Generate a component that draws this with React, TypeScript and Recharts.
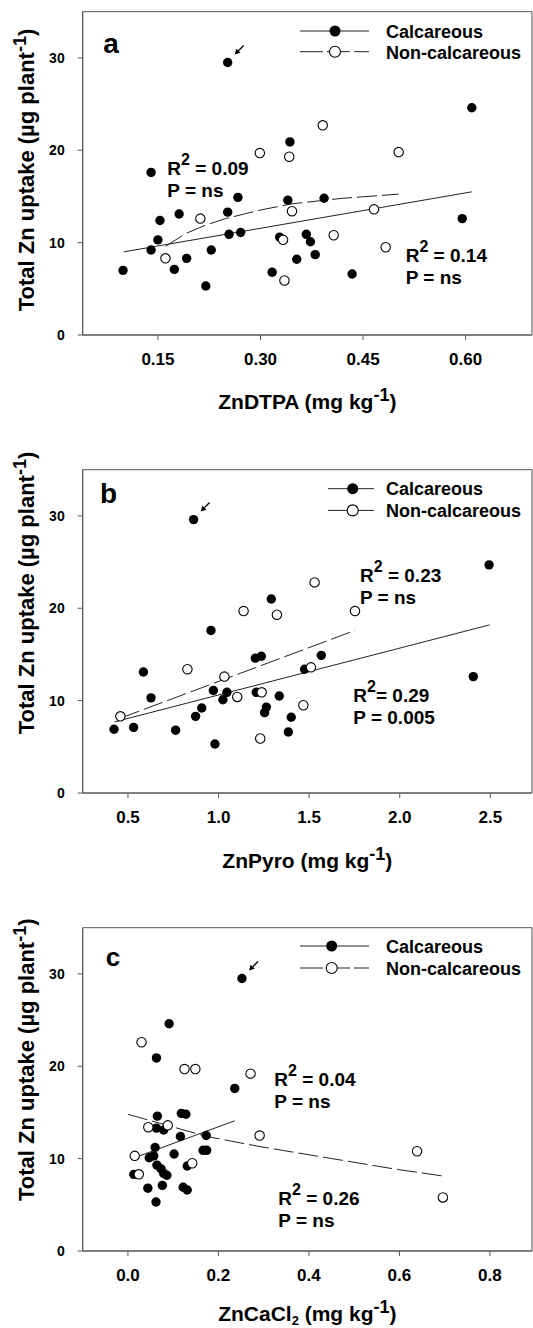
import React from 'react';
import { ScatterChart, Scatter, XAxis, YAxis, ReferenceArea, Label } from 'recharts';

const FONT = '"Liberation Sans", Arial, Helvetica, sans-serif';

type P = [number, number];

// ---------- Panel a : ZnDTPA ----------
const calcA: P[] = [
  [0.252, 29.5], [0.609, 24.6], [0.343, 20.9], [0.140, 17.6], [0.267, 14.9], [0.340, 14.6],
  [0.393, 14.8], [0.181, 13.1], [0.153, 12.4], [0.252, 13.3], [0.595, 12.6], [0.150, 10.3],
  [0.254, 10.9], [0.271, 11.1], [0.328, 10.6], [0.367, 10.9], [0.373, 10.1], [0.140, 9.2],
  [0.228, 9.2], [0.192, 8.3], [0.353, 8.2], [0.380, 8.7], [0.099, 7.0], [0.174, 7.1],
  [0.317, 6.8], [0.434, 6.6], [0.220, 5.3],
];
const nonA: P[] = [
  [0.391, 22.7], [0.299, 19.7], [0.342, 19.3], [0.502, 19.8], [0.212, 12.6], [0.346, 13.4],
  [0.466, 13.6], [0.333, 10.3], [0.407, 10.8], [0.483, 9.5], [0.161, 8.3], [0.335, 5.9],
];
const fitCalcA: P[] = [[0.10, 9.0], [0.609, 15.5]];
const fitNonA: P[] = [
  [0.161, 9.6], [0.191, 11.0], [0.220, 11.9], [0.249, 12.6], [0.298, 13.5],
  [0.346, 14.2], [0.420, 14.8], [0.502, 15.25],
];
const ticksA = [0.15, 0.30, 0.45, 0.60];

// ---------- Panel b : ZnPyro ----------
const calcB: P[] = [
  [0.862, 29.6], [2.493, 24.7], [1.291, 21.0], [0.958, 17.6], [1.203, 14.6], [1.236, 14.8],
  [1.567, 14.9], [0.585, 13.1], [1.475, 13.4], [2.406, 12.6], [0.627, 10.3], [0.971, 11.1],
  [1.046, 10.9], [1.024, 10.1], [1.208, 10.9], [1.335, 10.5], [0.907, 9.2], [1.264, 9.3],
  [1.254, 8.7], [0.873, 8.3], [1.401, 8.2], [0.423, 6.9], [0.531, 7.1], [0.763, 6.8],
  [1.385, 6.6], [0.980, 5.3],
];
const nonB: P[] = [
  [1.530, 22.8], [1.138, 19.7], [1.322, 19.3], [1.753, 19.7], [0.828, 13.4], [1.032, 12.6],
  [1.510, 13.6], [1.103, 10.4], [1.238, 10.9], [1.468, 9.5], [0.458, 8.3], [1.230, 5.9],
];
const fitCalcB: P[] = [[0.426, 7.7], [2.496, 18.2]];
const fitNonB: P[] = [[0.458, 8.1], [1.753, 17.6]];
const ticksB = [0.5, 1.0, 1.5, 2.0, 2.5];

// ---------- Panel c : ZnCaCl2 ----------
const calcC: P[] = [
  [0.252, 29.5], [0.091, 24.6], [0.063, 20.9], [0.236, 17.6], [0.065, 14.6], [0.118, 14.9],
  [0.128, 14.8], [0.063, 13.3], [0.079, 13.1], [0.116, 12.4], [0.173, 12.5], [0.060, 11.2],
  [0.166, 10.9], [0.174, 10.9], [0.102, 10.5], [0.047, 10.1], [0.057, 10.3], [0.064, 9.3],
  [0.131, 9.2], [0.073, 8.9], [0.079, 8.4], [0.086, 8.2], [0.013, 8.3], [0.044, 6.8],
  [0.076, 7.1], [0.122, 6.9], [0.131, 6.6], [0.062, 5.3],
];
const nonC: P[] = [
  [0.030, 22.6], [0.125, 19.7], [0.149, 19.7], [0.271, 19.2], [0.291, 12.5], [0.045, 13.4],
  [0.088, 13.6], [0.015, 10.3], [0.639, 10.8], [0.024, 8.3], [0.142, 9.5], [0.696, 5.8],
];
const fitCalcC: P[] = [[0.020, 10.2], [0.236, 14.1]];
const fitNonC: P[] = [
  [0.0, 14.8], [0.174, 12.4], [0.292, 11.3], [0.439, 10.1], [0.586, 8.9], [0.699, 8.1],
];
const ticksC = [0.0, 0.2, 0.4, 0.6, 0.8];

const yTicks = [0, 10, 20, 30];

const toXY = (arr: P[]) => arr.map(([x, y]) => ({ x, y }));
const maxPoint = (arr: P[]) => toXY([arr.reduce((m, p) => (p[1] > m[1] ? p : m), arr[0])]);

const AXIS = '#555';

const FilledDot = (props: any) => {
  const { cx, cy } = props;
  if (cx == null || cy == null) return <g />;
  return <circle cx={cx} cy={cy} r={4.7} fill="#000" />;
};
const OpenDot = (props: any) => {
  const { cx, cy } = props;
  if (cx == null || cy == null) return <g />;
  return <circle cx={cx} cy={cy} r={4.7} fill="#fff" stroke="#000" strokeWidth={1.1} />;
};
const NoDot = () => <g />;
const ArrowMark = (props: any) => {
  const { cx, cy } = props;
  if (cx == null || cy == null) return <g />;
  const tx = cx + 7, ty = cy - 8;
  const sx = cx + 16, sy = cy - 17;
  const bx = tx + 3.8, by = ty - 3.8;
  return (
    <g>
      <line x1={sx} y1={sy} x2={bx} y2={by} stroke="#000" strokeWidth={1.3} />
      <polygon points={`${tx},${ty} ${bx + 2},${by + 2} ${bx - 2},${by - 2}`} fill="#000" />
    </g>
  );
};

const tickX = { fill: '#000', fontSize: 17, fontWeight: 'bold', fontFamily: FONT } as any;
const tickY = { fill: '#000', fontSize: 14, fontWeight: 'bold', fontFamily: FONT } as any;

const W = 533;
const H = 420;

type PanelProps = {
  top: number;
  domain: [number, number];
  ticks: number[];
  digits: number;
  calc: P[];
  non: P[];
  fitCalc: P[];
  fitNon: P[];
  titleOffset: number;
  title: (x: number, y: number) => React.ReactNode;
  children?: React.ReactNode;
};

function Panel({ top, domain, ticks, digits, calc, non, fitCalc, fitNon, titleOffset, title, children }: PanelProps) {
  return (
    <div style={{ position: 'absolute', left: 0, top, width: W, height: H }}>
      <ScatterChart width={W} height={H} margin={{ top: 11.7, right: 1, left: 22.7, bottom: 5 }}>
        <XAxis
          type="number"
          dataKey="x"
          domain={domain}
          ticks={ticks}
          allowDataOverflow
          tickFormatter={(v: number) => v.toFixed(digits)}
          stroke={AXIS}
          tick={tickX}
          tickSize={5}
          tickMargin={13}
          height={80}
        >
          <Label
            content={(p: any) => {
              const vb = p.viewBox || {};
              return title(vb.x + vb.width / 2, vb.y + titleOffset);
            }}
          />
        </XAxis>
        <YAxis
          type="number"
          dataKey="y"
          domain={[0, 35]}
          ticks={yTicks}
          allowDataOverflow
          stroke={AXIS}
          tick={tickY}
          tickSize={5}
          tickMargin={13}
          width={60}
        />
        <ReferenceArea x1={domain[0]} x2={domain[1]} y1={0} y2={35} fill="none" stroke={AXIS} strokeWidth={1} ifOverflow="visible" />
        <Scatter data={toXY(fitCalc)} line={{ stroke: '#222', strokeWidth: 1 }} shape={NoDot} isAnimationActive={false} legendType="none" />
        <Scatter data={toXY(fitNon)} line={{ stroke: '#222', strokeWidth: 1, strokeDasharray: '20 5' }} shape={NoDot} isAnimationActive={false} legendType="none" />
        <Scatter data={toXY(calc)} shape={FilledDot} isAnimationActive={false} />
        <Scatter data={toXY(non)} shape={OpenDot} isAnimationActive={false} />
        <Scatter data={maxPoint(calc)} shape={ArrowMark} isAnimationActive={false} legendType="none" />
      </ScatterChart>
      <svg width={W} height={H} style={{ position: 'absolute', left: 0, top: 0, pointerEvents: 'none', overflow: 'visible' }}>
        {children}
      </svg>
    </div>
  );
}

const txt = { fontFamily: FONT, fontWeight: 'bold', fill: '#000' } as any;

function LegendBlock({ x1, x2, cx, y1, y2, dashed }: { x1: number; x2: number; cx: number; y1: number; y2: number; dashed: boolean }) {
  return (
    <g>
      <line x1={x1} x2={x2} y1={y1} y2={y1} stroke="#222" strokeWidth={1} />
      <circle cx={cx} cy={y1} r={5.5} fill="#000" />
      <text {...txt} x={386} y={y1 + 6.7} fontSize={18}>Calcareous</text>
      <line x1={x1} x2={x2} y1={y2} y2={y2} stroke="#222" strokeWidth={1} strokeDasharray={dashed ? '23 4' : undefined} />
      <circle cx={cx} cy={y2} r={5.5} fill="#fff" stroke="#000" strokeWidth={1.1} />
      <text {...txt} x={386} y={y2 + 7} fontSize={18}>Non-calcareous</text>
    </g>
  );
}

function RText({ x, y, r2, p, noSpace }: { x: number; y: number; r2: string; p: string; noSpace?: boolean }) {
  return (
    <g>
      <text {...txt} x={x} y={y} fontSize={19}>
        R<tspan dy={-10} fontSize={16}>2</tspan>
        <tspan dy={10}>{noSpace ? '= ' : ' = '}{r2}</tspan>
      </text>
      <text {...txt} x={x} y={y + 22} fontSize={19}>P = {p}</text>
    </g>
  );
}

function YLabel({ cy }: { cy: number }) {
  return (
    <text {...txt} fontSize={22} textAnchor="middle" transform={`translate(33.5, ${cy}) rotate(-90)`}>
      Total Zn uptake (µg plant<tspan dy={-8} fontSize={18}>-1</tspan>
      <tspan dy={8}>)</tspan>
    </text>
  );
}

const titleA = (x: number, y: number) => (
  <text {...txt} x={x} y={y} fontSize={21} textAnchor="middle">
    ZnDTPA (mg kg<tspan dy={-8} fontSize={18}>-1</tspan>
    <tspan dy={8}>)</tspan>
  </text>
);
const titleB = (x: number, y: number) => (
  <text {...txt} x={x} y={y} fontSize={21} textAnchor="middle">
    ZnPyro (mg kg<tspan dy={-8} fontSize={18}>-1</tspan>
    <tspan dy={8}>)</tspan>
  </text>
);
const titleC = (x: number, y: number) => (
  <text {...txt} x={x} y={y} fontSize={21} textAnchor="middle">
    ZnCaCl<tspan dy={4} fontSize={13}>2</tspan>
    <tspan dy={-4}> (mg kg</tspan>
    <tspan dy={-8} fontSize={18}>-1</tspan>
    <tspan dy={8}>)</tspan>
  </text>
);

export default function App() {
  return (
    <div style={{ position: 'absolute', left: 0, top: 0, width: W, height: 1328, overflow: 'hidden', background: '#fff' }}>
      <Panel top={0} domain={[0.04, 0.697]} ticks={ticksA} digits={2} calc={calcA} non={nonA} fitCalc={fitCalcA} fitNon={fitNonA} titleOffset={74} title={titleA}>
        <text {...txt} x={103.3} y={52.7} fontSize={28}>a</text>
        <LegendBlock x1={300} x2={369} cx={335} y1={31} y2={51.7} dashed />
        <RText x={167.3} y={175} r2="0.09" p="ns" />
        <RText x={405.7} y={261.7} r2="0.14" p="ns" />
        <YLabel cy={170} />
      </Panel>
      <Panel top={458.3} domain={[0.25, 2.73]} ticks={ticksB} digits={1} calc={calcB} non={nonB} fitCalc={fitCalcB} fitNon={fitNonB} titleOffset={75} title={titleB}>
        <text {...txt} x={100} y={44.7} fontSize={28}>b</text>
        <LegendBlock x1={328} x2={374} cx={352.7} y1={30.7} y2={52.4} dashed={false} />
        <RText x={360} y={124} r2="0.23" p="ns" />
        <RText x={353.3} y={244.4} r2="0.29" p="0.005" noSpace />
        <YLabel cy={135} />
      </Panel>
      <Panel top={916.3} domain={[-0.1, 0.893]} ticks={ticksC} digits={1} calc={calcC} non={nonC} fitCalc={fitCalcC} fitNon={fitNonC} titleOffset={70} title={titleC}>
        <text {...txt} x={105.7} y={50.4} fontSize={26}>c</text>
        <LegendBlock x1={300} x2={369} cx={331.7} y1={30} y2={52} dashed />
        <RText x={274.3} y={170.4} r2="0.04" p="ns" />
        <RText x={278.3} y={289.4} r2="0.26" p="ns" />
        <YLabel cy={143.7} />
      </Panel>
    </div>
  );
}
